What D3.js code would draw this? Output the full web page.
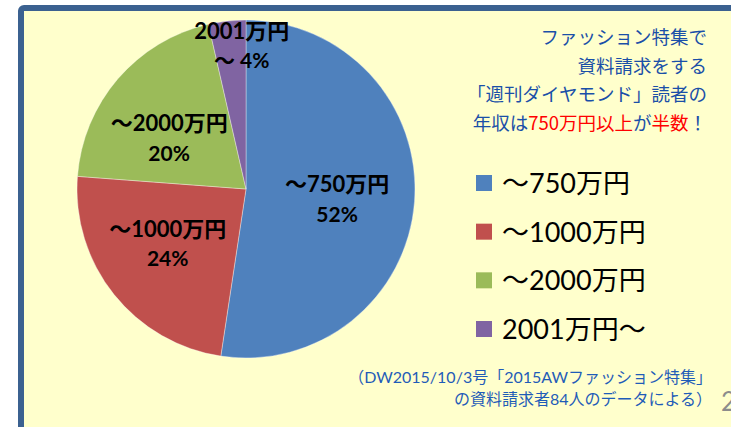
<!DOCTYPE html>
<html><head><meta charset="utf-8">
<script src="https://cdn.jsdelivr.net/npm/d3@7"></script>
<style>
html,body{margin:0;padding:0;background:#fff;}
svg{display:block;}
</style></head>
<body>
<svg id="c" width="731" height="427"></svg>
<script>
// ---- data ----
const categories = ["～750万円", "～1000万円", "～2000万円", "2001万円～"];
const counts = [44, 20, 17, 3];            // 84 respondents
const labelTop = ["～750万円", "～1000万円", "～2000万円", "2001万円"];
const labelPrefix = ["", "", "", "～ "];
const colors = ["#4F81BD", "#C0504D", "#9BBB59", "#8064A2"];
const titleLines = [
  [["ファッション特集で", "b"]],
  [["資料請求をする", "b"]],
  [["「週刊ダイヤモンド」読者の", "b"]],
  [["年収は", "b"], ["750万円以上", "r"], ["が", "b"], ["半数", "r"], ["！", "b"]]
];
const noteLines = ["（DW2015/10/3号「2015AWファッション特集」", "の資料請求者84人のデータによる）"];

// ---- layout ----
const svg = d3.select("#c");
const FONT = "Lato, 'Noto Sans CJK JP', sans-serif";
const CJK = "'Noto Sans CJK JP', sans-serif";

svg.append("rect").attr("x", 21).attr("y", 8).attr("width", 900).attr("height", 900)
  .attr("rx", 3).attr("fill", "#FFFFCC").attr("stroke", "#3B6190").attr("stroke-width", 6);

const cx = 246, cy = 189, R = 169;
const g = svg.append("g").attr("transform", `translate(${cx},${cy})`);
const pie = d3.pie().sort(null).value(d => d)(counts);
const arc = d3.arc().innerRadius(0).outerRadius(R);
g.selectAll("path.slice").data(pie).join("path").attr("class", "slice")
  .attr("d", arc).attr("fill", (d, i) => colors[i])
  .attr("stroke", "#ffffff").attr("stroke-opacity", 0.6).attr("stroke-width", 0.6);

const total = d3.sum(counts);
const labelArc = d3.arc().innerRadius(R * 0.6).outerRadius(R * 0.6);
const adj = [[-10, 3], [1, -8], [0, 16], [7, -42]];
const lg = g.selectAll("g.lbl").data(pie).join("g").attr("class", "lbl")
  .attr("transform", (d, i) => {
    const c = labelArc.centroid(d);
    return `translate(${c[0] + adj[i][0]},${c[1] + adj[i][1]})`;
  });
lg.append("text").attr("text-anchor", "middle").attr("y", -7.5)
  .attr("font-family", FONT).attr("font-weight", "bold").attr("font-size", 22).attr("fill", "#000")
  .text((d, i) => labelTop[i]);
lg.append("text").attr("text-anchor", "middle").attr("y", 22)
  .attr("font-family", FONT).attr("font-weight", "bold").attr("font-size", 21).attr("fill", "#000")
  .text((d, i) => labelPrefix[i] + Math.round(d.value / total * 100) + "%");

// legend
const leg = svg.append("g");
const rowY = d3.scalePoint().domain(categories).range([183, 329]);
categories.forEach((c, i) => {
  leg.append("rect").attr("x", 476).attr("y", rowY(c) - 8).attr("width", 16).attr("height", 16).attr("fill", colors[i]);
  leg.append("text").attr("x", 502).attr("y", rowY(c) + 10).attr("font-family", FONT)
    .attr("font-size", 27).attr("fill", "#000").text(c);
});

// title
const tcol = { b: "#1A4FA8", r: "#FF0000" };
titleLines.forEach((line, i) => {
  const t = svg.append("text").attr("x", 707).attr("y", 44 + i * 28.7).attr("text-anchor", "end")
    .attr("font-family", CJK).attr("font-size", 18.5);
  line.forEach(seg => t.append("tspan").attr("fill", tcol[seg[1]]).text(seg[0]));
});

// note
noteLines.forEach((s, i) => {
  svg.append("text").attr("x", 712).attr("y", 383 + i * 22).attr("text-anchor", "end")
    .attr("font-family", FONT).attr("font-size", 16).attr("fill", "#1F5CB8").text(s);
});

// page number (partly cut by the slide edge, as in the reference)
svg.append("text").attr("x", 721).attr("y", 411).attr("font-family", FONT)
  .attr("font-size", 26).attr("fill", "#8C8C8C").text("2");
</script>
</body></html>
